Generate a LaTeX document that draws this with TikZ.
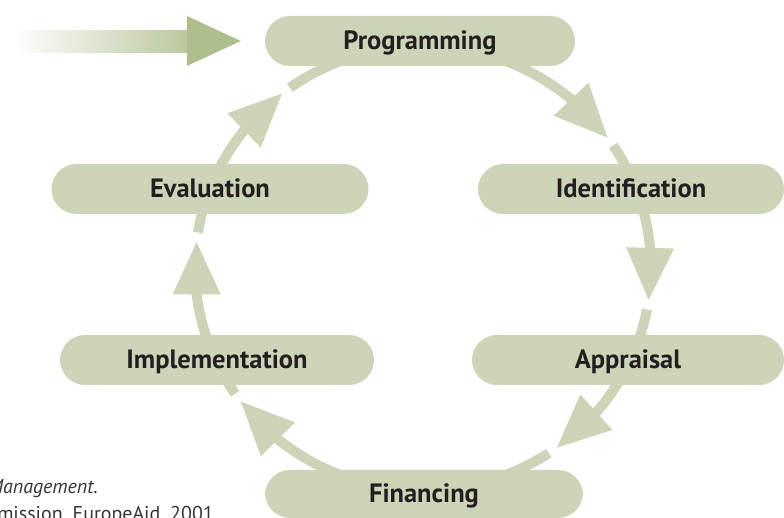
\documentclass[tikz,border=0pt]{standalone}
\usepackage{fontspec}
\setmainfont{PT Sans}
\usepackage{tikz}
\usetikzlibrary{calc}
\usetikzlibrary{positioning}
\definecolor{sage}{HTML}{CCD5B7}
\definecolor{sagedark}{HTML}{AFBE8D}
\definecolor{inkdark}{HTML}{231F20}

\begin{document}
\begin{tikzpicture}[x=1pt, y=1pt,
  stage/.style={fill=sage, rounded corners=25pt, minimum width=312pt, minimum height=50pt,
    inner sep=0pt, text height=18pt, text depth=0pt, text=inkdark,
    font=\fontsize{26.5}{30}\selectfont\bfseries},
  ring/.style={draw=sage, line width=10pt},
  source/.style={text=inkdark!90, font=\fontsize{20}{24}\selectfont, inner sep=0pt}]
\useasboundingbox (0,0) rectangle (784,518);
\clip (0,0) rectangle (784,518);
\coordinate (C) at (423,250);
\foreach \a/\t/\b in {75/36/20, 20/-8.3/-25, -25/-54/-70, -110/-143/-155, 205/173.3/160, 160/128.2/105}
{
  \pgfmathsetmacro{\tb}{\t+13.5}
  \pgfmathsetmacro{\te}{\t+11.5}
  \pgfmathsetmacro{\tr}{\t-2.5}
  \draw[ring] ($(C)+(\a:228 and 222)$) arc[start angle=\a, end angle=\te, x radius=228, y radius=222];
  \draw[ring] ($(C)+(\tr:228 and 222)$) arc[start angle=\tr, end angle=\b, x radius=228, y radius=222];
  \path ($(C)+(\t:228 and 222)$) coordinate (tip) ($(C)+(\tb:228 and 222)$) coordinate (base);
  \fill[sage] (tip) -- ($(base)!24pt!90:(tip)$) -- ($(base)!24pt!-90:(tip)$) -- cycle;
}
\node[stage, minimum width=310pt] (prog) at (420,477) {Programming};
\node[stage, minimum width=306pt] (ident) at (631,329) {Identification};
\node[stage] (appr) at (628,158) {Appraisal};
\node[stage, minimum width=318pt, minimum height=48pt] (fin) at (424,24) {Financing};
\node[stage, minimum width=314pt] (impl) at (217,158) {Implementation};
\node[stage, minimum width=317pt] (eval) at (210,329) {Evaluation};
\coordinate (tail) at (12,476);
\coordinate (head) at ($(prog.west)+(-24,0)$);
\shade[left color=white, right color=sagedark!85!white] ($(tail)+(0,-11)$) rectangle ($(head)+(-53,10)$);
\fill[sagedark] (head) -- ($(head)+(-54,25)$) -- ($(head)+(-54,-25)$) -- cycle;
\node[source, anchor=base east] (src1) at (98,24) {\itshape Management.};
\node[source, anchor=base east] (src2) at (214,-3) {Commission, EuropeAid, 2001};
\end{tikzpicture}
\end{document}
